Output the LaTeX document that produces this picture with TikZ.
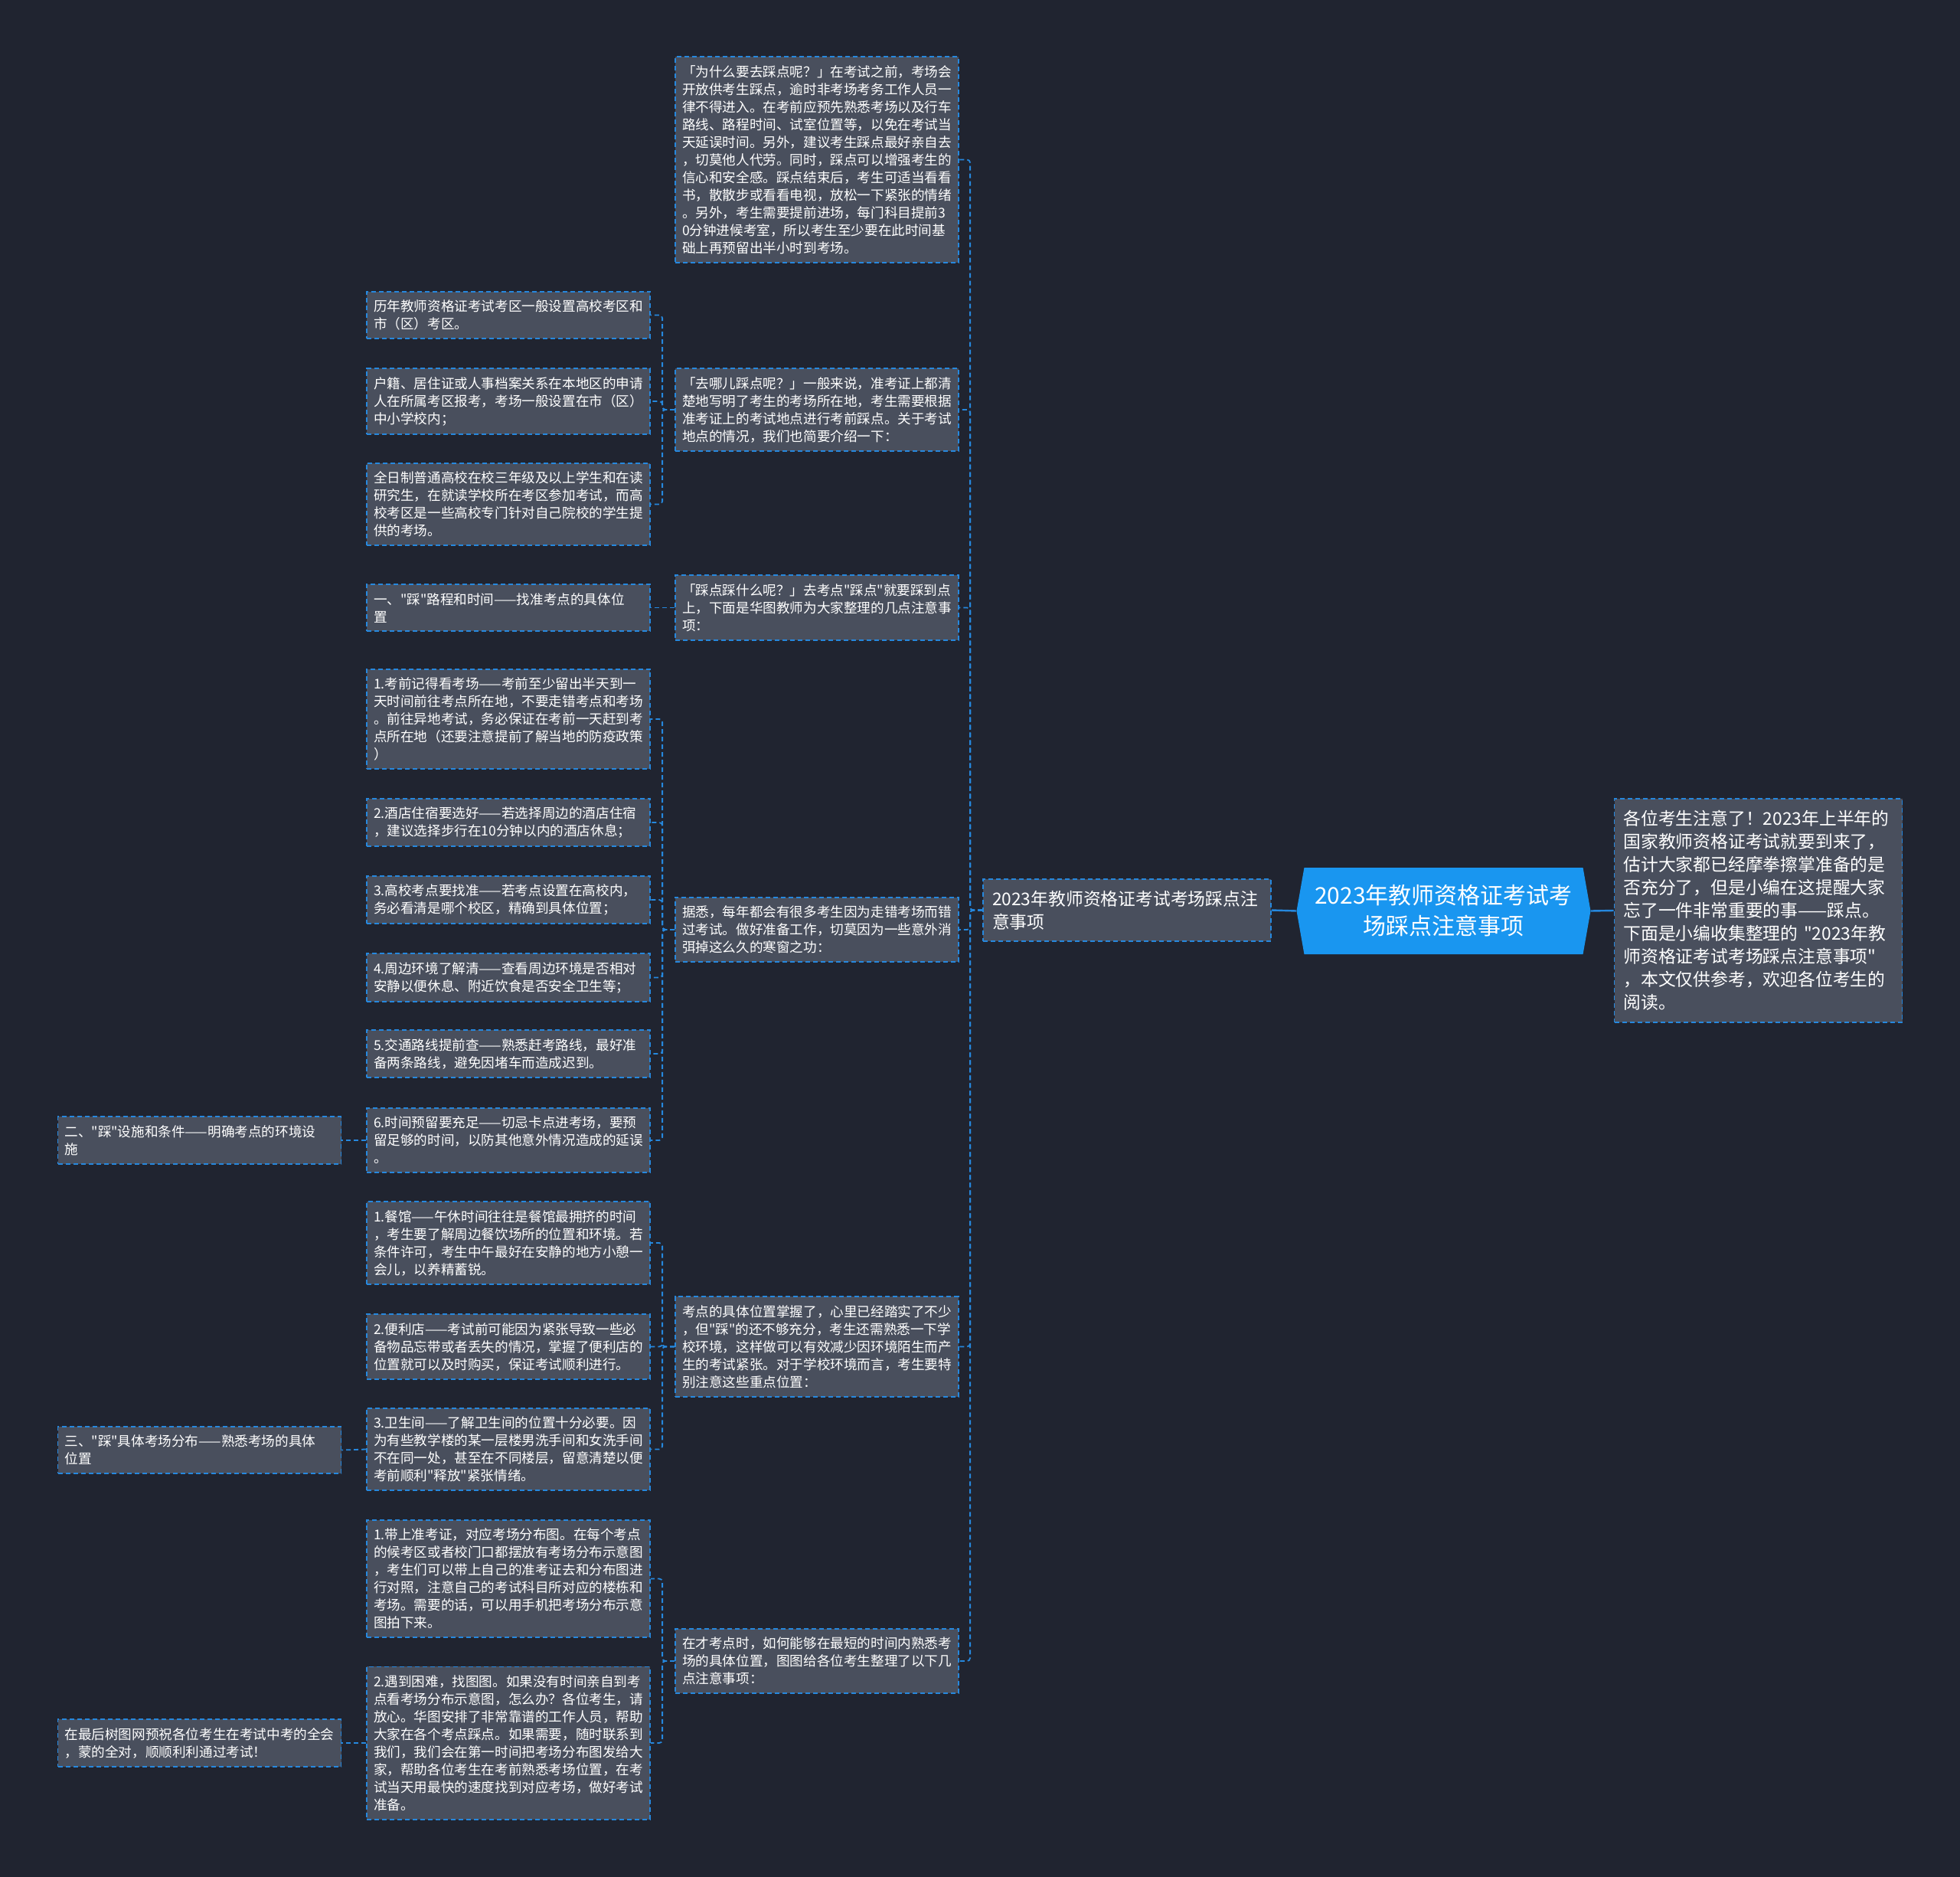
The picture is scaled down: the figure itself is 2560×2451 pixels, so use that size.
\documentclass[tikz,border=0pt]{standalone}
\usepackage{fontspec}
\newfontfamily\cjk{Noto Sans CJK SC}
\usepackage{tikz}
\usetikzlibrary{shapes, shapes.symbols, positioning}
\usepackage{xcolor}
\definecolor{bgnavy}{RGB}{32,36,48}
\definecolor{boxgrey}{RGB}{73,79,93}
\definecolor{edgeblue}{RGB}{38,136,222}
\definecolor{rootblue}{RGB}{25,150,240}
\tikzstyle{rootnode} = [signal, signal to=west and east, signal pointer angle=160, fill=rootblue,
                        text=white, minimum width=192pt, minimum height=56.5pt, align=center,
                        font=\cjk\fontsize{15}{20}\selectfont]
\tikzstyle{bignote}  = [rectangle, draw=edgeblue, dash pattern=on 3pt off 2pt, line width=0.9pt,
                        fill=boxgrey, text=white, inner xsep=6pt, inner ysep=7.5pt, text width=176pt,
                        align=left, font=\cjk\fontsize{11.4}{15}\selectfont]
\tikzstyle{note}     = [rectangle, draw=edgeblue, dash pattern=on 3pt off 2pt, line width=0.9pt,
                        fill=boxgrey, text=white, inner xsep=4.5pt, inner ysep=5.5pt, text width=176pt,
                        align=left, font=\cjk\fontsize{8.8}{11.5}\selectfont]
\tikzstyle{link}     = [draw=edgeblue, line width=0.9pt, dash pattern=on 3pt off 2pt, rounded corners=2pt]
\tikzstyle{stem}     = [draw=edgeblue, line width=1.2pt]

\begin{document}
\begin{tikzpicture}[x=0.5pt, y=-0.5pt]
                \fill[bgnavy] (0,0) rectangle (2560,2451);
                % centre and its two neighbours
                \node (r) [rootnode] at (1885.5,1189.5) {2023年教师资格证考试考\\场踩点注意事项};
                \node (i) [bignote] at (2296.5,1189) {各位考生注意了！2023年上半年的\\国家教师资格证考试就要到来了，\\估计大家都已经摩拳擦掌准备的是\\否充分了，但是小编在这提醒大家\\忘了一件非常重要的事——踩点。\\下面是小编收集整理的 "2023年教\\师资格证考试考场踩点注意事项"\\，本文仅供参考，欢迎各位考生的\\阅读。};
                \node (t) [bignote] at (1472,1188.5) {2023年教师资格证考试考场踩点注\\意事项};
                % second column
                \node (a) [note] at (1067,208.5) {「为什么要去踩点呢？」在考试之前，考场会\\开放供考生踩点，逾时非考场考务工作人员一\\律不得进入。在考前应预先熟悉考场以及行车\\路线、路程时间、试室位置等，以免在考试当\\天延误时间。另外，建议考生踩点最好亲自去\\，切莫他人代劳。同时，踩点可以增强考生的\\信心和安全感。踩点结束后，考生可适当看看\\书，散散步或看看电视，放松一下紧张的情绪\\。另外，考生需要提前进场，每门科目提前3\\0分钟进候考室，所以考生至少要在此时间基\\础上再预留出半小时到考场。};
                \node (b) [note] at (1067,535) {「去哪儿踩点呢？」一般来说，准考证上都清\\楚地写明了考生的考场所在地，考生需要根据\\准考证上的考试地点进行考前踩点。关于考试\\地点的情况，我们也简要介绍一下：};
                \node (c) [note] at (1067,793.5) {「踩点踩什么呢？」去考点"踩点"就要踩到点\\上，下面是华图教师为大家整理的几点注意事\\项：};
                \node (d) [note] at (1067,1214) {据悉，每年都会有很多考生因为走错考场而错\\过考试。做好准备工作，切莫因为一些意外消\\弭掉这么久的寒窗之功：};
                \node (e) [note] at (1067,1758.5) {考点的具体位置掌握了，心里已经踏实了不少\\，但"踩"的还不够充分，考生还需熟悉一下学\\校环境，这样做可以有效减少因环境陌生而产\\生的考试紧张。对于学校环境而言，考生要特\\别注意这些重点位置：};
                \node (f) [note] at (1067,2169) {在才考点时，如何能够在最短的时间内熟悉考\\场的具体位置，图图给各位考生整理了以下几\\点注意事项：};
                % third column
                \node (b1) [note] at (664,411.5) {历年教师资格证考试考区一般设置高校考区和\\市（区）考区。};
                \node (b2) [note] at (664,524) {户籍、居住证或人事档案关系在本地区的申请\\人在所属考区报考，考场一般设置在市（区）\\中小学校内；};
                \node (b3) [note] at (664,658.5) {全日制普通高校在校三年级及以上学生和在读\\研究生，在就读学校所在考区参加考试，而高\\校考区是一些高校专门针对自己院校的学生提\\供的考场。};
                \node (c1) [note] at (664,793.5) {一、"踩"路程和时间——找准考点的具体位\\置};
                \node (d1) [note] at (664,939) {1.考前记得看考场——考前至少留出半天到一\\天时间前往考点所在地，不要走错考点和考场\\。前往异地考试，务必保证在考前一天赶到考\\点所在地（还要注意提前了解当地的防疫政策\\）};
                \node (d2) [note] at (664,1074) {2.酒店住宿要选好——若选择周边的酒店住宿\\，建议选择步行在10分钟以内的酒店休息；};
                \node (d3) [note] at (664,1175) {3.高校考点要找准——若考点设置在高校内，\\务必看清是哪个校区，精确到具体位置；};
                \node (d4) [note] at (664,1276.5) {4.周边环境了解清——查看周边环境是否相对\\安静以便休息、附近饮食是否安全卫生等；};
                \node (d5) [note] at (664,1376) {5.交通路线提前查——熟悉赶考路线，最好准\\备两条路线，避免因堵车而造成迟到。};
                \node (d6) [note] at (664,1489) {6.时间预留要充足——切忌卡点进考场，要预\\留足够的时间，以防其他意外情况造成的延误\\。};
                \node (e1) [note] at (664,1623) {1.餐馆——午休时间往往是餐馆最拥挤的时间\\，考生要了解周边餐饮场所的位置和环境。若\\条件许可，考生中午最好在安静的地方小憩一\\会儿，以养精蓄锐。};
                \node (e2) [note] at (664,1758.5) {2.便利店——考试前可能因为紧张导致一些必\\备物品忘带或者丢失的情况，掌握了便利店的\\位置就可以及时购买，保证考试顺利进行。};
                \node (e3) [note] at (664,1892.5) {3.卫生间——了解卫生间的位置十分必要。因\\为有些教学楼的某一层楼男洗手间和女洗手间\\不在同一处，甚至在不同楼层，留意清楚以便\\考前顺利"释放"紧张情绪。};
                \node (f1) [note] at (664,2061.5) {1.带上准考证，对应考场分布图。在每个考点\\的候考区或者校门口都摆放有考场分布示意图\\，考生们可以带上自己的准考证去和分布图进\\行对照，注意自己的考试科目所对应的楼栋和\\考场。需要的话，可以用手机把考场分布示意\\图拍下来。};
                \node (f2) [note] at (664,2276) {2.遇到困难，找图图。如果没有时间亲自到考\\点看考场分布示意图，怎么办？各位考生，请\\放心。华图安排了非常靠谱的工作人员，帮助\\大家在各个考点踩点。如果需要，随时联系到\\我们，我们会在第一时间把考场分布图发给大\\家，帮助各位考生在考前熟悉考场位置，在考\\试当天用最快的速度找到对应考场，做好考试\\准备。};
                % fourth column
                \node (g1) [note] at (260.5,1489) {二、"踩"设施和条件——明确考点的环境设\\施};
                \node (g2) [note] at (260.5,1893.5) {三、"踩"具体考场分布——熟悉考场的具体\\位置};
                \node (g3) [note] at (260.5,2276) {在最后树图网预祝各位考生在考试中考的全会\\，蒙的全对，顺顺利利通过考试！};
                % connectors
                \draw[stem] (t.east) -- (r.west); \draw[stem] (r.east) -- (i.west);
                \foreach \c in {a,b,c,d,e,f} \draw[link] (t.west) -- ++(-8pt,0) |- (\c.east);
                \foreach \c in {b1,b2,b3} \draw[link] (b.west) -- ++(-8pt,0) |- (\c.east);
                \draw[link] (c.west) -- (c1.east);
                \foreach \c in {d1,d2,d3,d4,d5,d6} \draw[link] (d.west) -- ++(-8pt,0) |- (\c.east);
                \foreach \c in {e1,e2,e3} \draw[link] (e.west) -- ++(-8pt,0) |- (\c.east);
                \foreach \c in {f1,f2} \draw[link] (f.west) -- ++(-8pt,0) |- (\c.east);
                \draw[link] (d6.west) -- (g1.east); \draw[link] (e3.west) -- (g2.east);
                \draw[link] (f2.west) -- (g3.east);
            \end{tikzpicture}
\end{document}
